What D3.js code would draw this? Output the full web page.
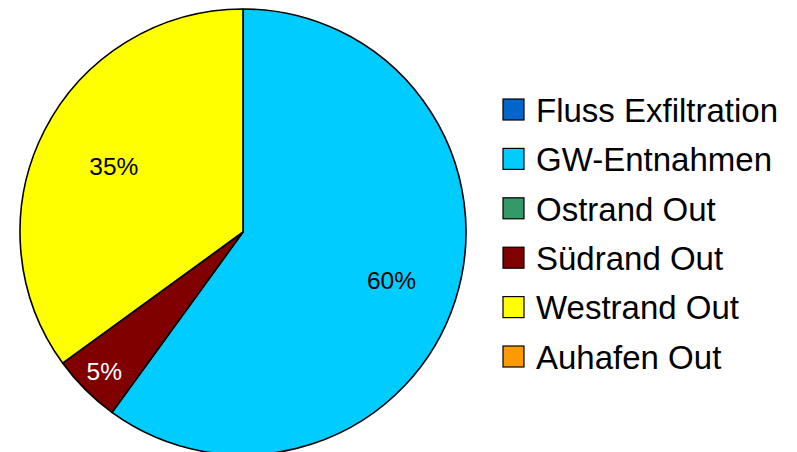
<!DOCTYPE html>
<html>
<head>
<meta charset="utf-8">
<script src="https://cdn.jsdelivr.net/npm/d3@7"></script>
<style>
  html, body { margin: 0; padding: 0; background: #fff; }
  svg { display: block; font-family: "Liberation Sans", Arial, sans-serif; }
</style>
</head>
<body>
<svg id="chart" width="797" height="452"></svg>
<script>
// Outflow components of the groundwater balance (percent)
const categories = ["Fluss Exfiltration", "GW-Entnahmen", "Ostrand Out", "Südrand Out", "Westrand Out", "Auhafen Out"];
const shares = [0, 60, 0, 5, 35, 0];
const colors = ["#0066CC", "#00CCFF", "#339966", "#800000", "#FFFF00", "#FF9900"];
const labelColors = ["#000", "#000", "#000", "#fff", "#000", "#000"];

const data = categories.map((c, i) => ({ name: c, value: shares[i], color: colors[i], labelColor: labelColors[i] }));

const svg = d3.select("#chart");
const cx = 243, cy = 232, R = 223;

const pie = d3.pie().sort(null).value(d => d.value);
const arc = d3.arc().innerRadius(0).outerRadius(R);
const arcs = pie(data);

const g = svg.append("g").attr("transform", `translate(${cx},${cy})`);

g.selectAll("path.slice")
  .data(arcs.filter(a => a.data.value > 0))
  .join("path")
  .attr("class", "slice")
  .attr("d", arc)
  .attr("fill", d => d.data.color)
  .attr("stroke", "#000")
  .attr("stroke-width", 1.6)
  .attr("stroke-linejoin", "round");

// label distance from centre, as a fraction of the radius, per slice
const labelRadius = d => d.data.value < 10 ? 0.88 * R : (d.data.value > 50 ? 0.70 * R : 0.65 * R);

g.selectAll("text.pct")
  .data(arcs.filter(a => a.data.value > 0))
  .join("text")
  .attr("class", "pct")
  .attr("transform", d => {
    const r = labelRadius(d);
    const a = (d.startAngle + d.endAngle) / 2;
    return `translate(${r * Math.sin(a)},${-r * Math.cos(a)})`;
  })
  .attr("text-anchor", "middle")
  .attr("dy", "0.36em")
  .attr("font-size", 24.5)
  .attr("fill", d => d.data.labelColor)
  .text(d => d3.format(".0%")(d.data.value / 100));

// legend
const legendY = d3.scalePoint().domain(categories).range([110, 357]);
const lg = svg.append("g");
const rows = lg.selectAll("g.row").data(data).join("g")
  .attr("class", "row")
  .attr("transform", d => `translate(503,${legendY(d.name)})`);

rows.append("rect")
  .attr("x", 0).attr("y", -11)
  .attr("width", 21).attr("height", 21)
  .attr("fill", d => d.color)
  .attr("stroke", "#000")
  .attr("stroke-width", 1.2);

rows.append("text")
  .attr("x", 33)
  .attr("dy", "0.36em")
  .attr("font-size", 33)
  .attr("fill", "#000")
  .text(d => d.name);
</script>
</body>
</html>
